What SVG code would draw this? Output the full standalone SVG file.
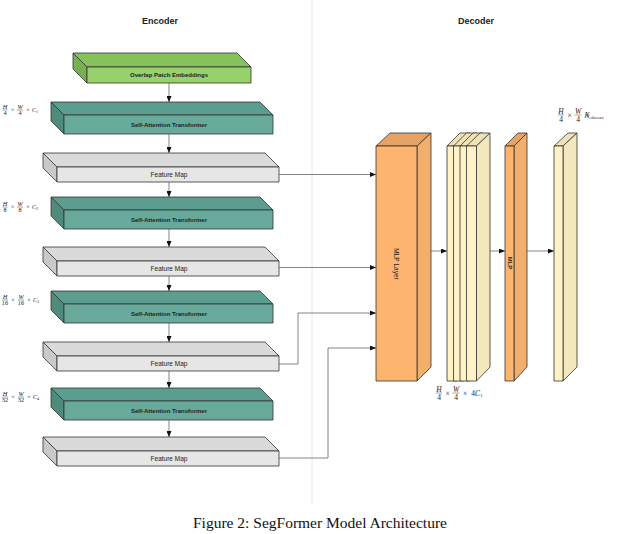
<svg xmlns="http://www.w3.org/2000/svg" width="640" height="534" viewBox="0 0 640 534">
<defs>
<marker id="ah" markerUnits="userSpaceOnUse" markerWidth="6" markerHeight="5" refX="6" refY="2.5" orient="auto"><path d="M0,0 L6,2.5 L0,5 z" fill="#111"/></marker>
<style>
.bx{stroke:#333;stroke-width:0.8;stroke-linejoin:round}
.gF{fill:#97D16B}.gT{fill:#86C25B}.gS{fill:#79B04F}
.tF{fill:#67AA9B}.tT{fill:#5B9D8E}.tS{fill:#4E8B7D}
.fF{fill:#E6E6E6}.fT{fill:#DADADA}.fS{fill:#C9C9C9}
.oF{fill:#FDB46F}.oT{fill:#E7A366}.oS{fill:#F1AE6D}
.yF{fill:#FFF2C6}.yT{fill:#EFE3B5}.yS{fill:#F2E7BD}
.lb{font-family:"Liberation Sans",Arial,sans-serif;font-size:6px;font-weight:bold;fill:#222;text-anchor:middle}
.lr{font-family:"Liberation Sans",Arial,sans-serif;font-size:6.5px;fill:#222;text-anchor:middle}
.hd{font-family:"Liberation Sans",Arial,sans-serif;font-size:9px;font-weight:bold;fill:#222;text-anchor:middle}
.m{font-family:"Liberation Serif","Times New Roman",serif;font-style:italic;font-size:6.3px;fill:#222;text-anchor:middle}
.mu{font-family:"Liberation Serif","Times New Roman",serif;font-size:6.3px;fill:#222;text-anchor:middle}
.m2{font-family:"Liberation Serif","Times New Roman",serif;font-style:italic;font-size:7.5px;fill:#222;text-anchor:middle}
.mu2{font-family:"Liberation Serif","Times New Roman",serif;font-size:7.5px;fill:#222;text-anchor:middle}
.cap{font-family:"Liberation Serif","Times New Roman",serif;font-size:15.5px;fill:#111;text-anchor:middle}
.cn{fill:none;stroke:#666;stroke-width:0.8}
.bar{stroke:#222;stroke-width:0.4}
</style>
</defs>
<rect width="640" height="534" fill="#fff"/>
<line x1="312" y1="0" x2="312" y2="505" stroke="#ececec" stroke-width="1"/>
<text class="hd" x="160" y="24">Encoder</text>
<text class="hd" x="476" y="24">Decoder</text>

<g id="ope">
<polygon class="bx gT" points="73,53 237,53 251,67 87,67"/>
<polygon class="bx gS" points="73,53 87,67 87,83 73,69"/>
<rect class="bx gF" x="87" y="67" width="164" height="16"/>
<text class="lb" x="169" y="77.2">Overlap Patch Embeddings</text>
</g>

<g id="sat1">
<polygon class="bx tT" points="51,102 260,102 273,115 64,115"/>
<polygon class="bx tS" points="51,102 64,115 64,134 51,121"/>
<rect class="bx tF" x="64" y="115" width="209" height="19"/>
<text class="lb" x="169" y="126.5">Self-Attention Transformer</text>
</g>
<g id="fm1">
<polygon class="bx fT" points="43,153 265,153 279,167 57,167"/>
<polygon class="bx fS" points="43,153 57,167 57,182 43,168"/>
<rect class="bx fF" x="57" y="167" width="222" height="15"/>
<text class="lr" x="169" y="177">Feature Map</text>
</g>
<g id="sat2">
<polygon class="bx tT" points="51,197 260,197 273,210 64,210"/>
<polygon class="bx tS" points="51,197 64,210 64,229 51,216"/>
<rect class="bx tF" x="64" y="210" width="209" height="19"/>
<text class="lb" x="169" y="221.5">Self-Attention Transformer</text>
</g>
<g id="fm2">
<polygon class="bx fT" points="43,247 265,247 279,261 57,261"/>
<polygon class="bx fS" points="43,247 57,261 57,276 43,262"/>
<rect class="bx fF" x="57" y="261" width="222" height="15"/>
<text class="lr" x="169" y="271">Feature Map</text>
</g>
<g id="sat3">
<polygon class="bx tT" points="51,291 260,291 273,304 64,304"/>
<polygon class="bx tS" points="51,291 64,304 64,323 51,310"/>
<rect class="bx tF" x="64" y="304" width="209" height="19"/>
<text class="lb" x="169" y="315.5">Self-Attention Transformer</text>
</g>
<g id="fm3">
<polygon class="bx fT" points="43,342 265,342 279,356 57,356"/>
<polygon class="bx fS" points="43,342 57,356 57,371 43,357"/>
<rect class="bx fF" x="57" y="356" width="222" height="15"/>
<text class="lr" x="169" y="366">Feature Map</text>
</g>
<g id="sat4">
<polygon class="bx tT" points="51,388 260,388 273,401 64,401"/>
<polygon class="bx tS" points="51,388 64,401 64,420 51,407"/>
<rect class="bx tF" x="64" y="401" width="209" height="19"/>
<text class="lb" x="169" y="412.5">Self-Attention Transformer</text>
</g>
<g id="fm4">
<polygon class="bx fT" points="43,437 265,437 279,451 57,451"/>
<polygon class="bx fS" points="43,437 57,451 57,466 43,452"/>
<rect class="bx fF" x="57" y="451" width="222" height="15"/>
<text class="lr" x="169" y="461">Feature Map</text>
</g>

<g id="dims-enc">
<g transform="translate(0,110)">
<text class="m" x="5" y="-1.2">H</text><line class="bar" x1="2.5" y1="0" x2="7.5" y2="0"/><text class="mu" x="5" y="5.2">4</text>
<text class="mu" x="12.5" y="2">×</text>
<text class="m" x="20" y="-1.2">W</text><line class="bar" x1="17" y1="0" x2="23" y2="0"/><text class="mu" x="20" y="5.2">4</text>
<text class="mu" x="28" y="2">×</text>
<text class="m" x="35" y="2">C<tspan font-size="4" font-style="normal" dy="1">1</tspan></text>
</g>
<g transform="translate(0,207)">
<text class="m" x="5" y="-1.2">H</text><line class="bar" x1="2.5" y1="0" x2="7.5" y2="0"/><text class="mu" x="5" y="5.2">8</text>
<text class="mu" x="12.5" y="2">×</text>
<text class="m" x="20" y="-1.2">W</text><line class="bar" x1="17" y1="0" x2="23" y2="0"/><text class="mu" x="20" y="5.2">8</text>
<text class="mu" x="28" y="2">×</text>
<text class="m" x="35" y="2">C<tspan font-size="4" font-style="normal" dy="1">2</tspan></text>
</g>
<g transform="translate(0,300)">
<text class="m" x="5" y="-1.2">H</text><line class="bar" x1="2" y1="0" x2="8" y2="0"/><text class="mu" x="5" y="5.2">16</text>
<text class="mu" x="13" y="2">×</text>
<text class="m" x="21" y="-1.2">W</text><line class="bar" x1="18" y1="0" x2="24" y2="0"/><text class="mu" x="21" y="5.2">16</text>
<text class="mu" x="29" y="2">×</text>
<text class="m" x="36" y="2">C<tspan font-size="4" font-style="normal" dy="1">3</tspan></text>
</g>
<g transform="translate(0,397)">
<text class="m" x="5" y="-1.2">H</text><line class="bar" x1="2" y1="0" x2="8" y2="0"/><text class="mu" x="5" y="5.2">32</text>
<text class="mu" x="13" y="2">×</text>
<text class="m" x="21" y="-1.2">W</text><line class="bar" x1="18" y1="0" x2="24" y2="0"/><text class="mu" x="21" y="5.2">32</text>
<text class="mu" x="29" y="2">×</text>
<text class="m" x="36" y="2">C<tspan font-size="4" font-style="normal" dy="1">4</tspan></text>
</g>
</g>

<g id="mlp-layer">
<polygon class="bx oT" points="376,146 417,146 431,133 390,133"/>
<polygon class="bx oS" points="417,146 431,133 431,367 417,381"/>
<rect class="bx oF" x="376" y="146" width="41" height="235"/>
<text class="lr" font-size="7" transform="translate(394,264) rotate(90)">MLP Layer</text>
</g>

<g id="concat">
<polygon class="bx yT" points="447,146 457,146 470,133 460,133"/>
<polygon class="bx yS" points="457,146 470,133 470,367 457,381"/>
<rect class="bx yF" x="447" y="146" width="10" height="235"/>
<polygon class="bx yT" points="453.5,146 463.5,146 476.5,133 466.5,133"/>
<polygon class="bx yS" points="463.5,146 476.5,133 476.5,367 463.5,381"/>
<rect class="bx yF" x="453.5" y="146" width="10" height="235"/>
<polygon class="bx yT" points="460,146 470,146 483,133 473,133"/>
<polygon class="bx yS" points="470,146 483,133 483,367 470,381"/>
<rect class="bx yF" x="460" y="146" width="10" height="235"/>
<polygon class="bx yT" points="466.5,146 476.5,146 490,133 480,133"/>
<polygon class="bx yS" points="476.5,146 490,133 490,367 476.5,381"/>
<rect class="bx yF" x="466.5" y="146" width="10" height="235"/>
</g>

<g id="mlp">
<polygon class="bx oT" points="505,146 514,146 527,133 518,133"/>
<polygon class="bx oS" points="514,146 527,133 527,367 514,381"/>
<rect class="bx oF" x="505" y="146" width="9" height="235"/>
<text class="lb" font-size="6" transform="translate(507.5,263) rotate(90)">MLP</text>
</g>

<g id="output">
<polygon class="bx yT" points="554,146 563,146 577,133 568,133"/>
<polygon class="bx yS" points="563,146 577,133 577,367 563,381"/>
<rect class="bx yF" x="554" y="146" width="9" height="235"/>
</g>

<g id="dims-dec">
<g transform="translate(0,115)">
<text class="m2" x="561" y="-1.5">H</text><line class="bar" x1="558" y1="0" x2="564" y2="0"/><text class="mu2" x="561" y="6.5">4</text>
<text class="mu2" x="569.5" y="2.5">×</text>
<text class="m2" x="578" y="-1.5">W</text><line class="bar" x1="574.5" y1="0" x2="581.5" y2="0"/><text class="mu2" x="578" y="6.5">4</text>
<text class="mu2" x="586.5" y="2.5">×</text>
<text class="m2" x="594" y="2.5">N<tspan font-size="5" dy="1">classes</tspan></text>
</g>
<g transform="translate(0,393)">
<text class="m2" x="439" y="-1.5">H</text><line class="bar" x1="436" y1="0" x2="442" y2="0"/><text class="mu2" x="439" y="6.5">4</text>
<text class="mu2" x="447.5" y="2.5">×</text>
<text class="m2" x="456" y="-1.5">W</text><line class="bar" x1="452.5" y1="0" x2="459.5" y2="0"/><text class="mu2" x="456" y="6.5">4</text>
<text class="mu2" x="465" y="2.5">×</text>
<text class="m2" x="477" y="2.5"><tspan font-style="normal">4</tspan>C<tspan font-size="5" font-style="normal" dy="1">1</tspan></text>
</g>
</g>

<g id="connectors">
<line class="cn" x1="169" y1="83" x2="169" y2="102" stroke="#333" marker-end="url(#ah)"/>
<line class="cn" x1="169" y1="134" x2="169" y2="153" stroke="#333" marker-end="url(#ah)"/>
<line class="cn" x1="169" y1="182" x2="169" y2="197" stroke="#333" marker-end="url(#ah)"/>
<line class="cn" x1="169" y1="229" x2="169" y2="247" stroke="#333" marker-end="url(#ah)"/>
<line class="cn" x1="169" y1="276" x2="169" y2="291" stroke="#333" marker-end="url(#ah)"/>
<line class="cn" x1="169" y1="323" x2="169" y2="342" stroke="#333" marker-end="url(#ah)"/>
<line class="cn" x1="169" y1="371" x2="169" y2="388" stroke="#333" marker-end="url(#ah)"/>
<line class="cn" x1="169" y1="420" x2="169" y2="437" stroke="#333" marker-end="url(#ah)"/>
<polyline class="cn" points="279,174.5 376,174.5" marker-end="url(#ah)"/>
<polyline class="cn" points="279,267.5 376,267.5" marker-end="url(#ah)"/>
<polyline class="cn" points="279,364 298,364 298,313 376,313" marker-end="url(#ah)"/>
<polyline class="cn" points="279,458 328,458 328,348 376,348" marker-end="url(#ah)"/>
<line class="cn" x1="431" y1="251" x2="447" y2="251" stroke="#333" marker-end="url(#ah)"/>
<line class="cn" x1="490" y1="251" x2="505" y2="251" stroke="#333" marker-end="url(#ah)"/>
<line class="cn" x1="527" y1="251" x2="554" y2="251" stroke="#333" marker-end="url(#ah)"/>
</g>

<text class="cap" x="320" y="528">Figure 2: SegFormer Model Architecture</text>
</svg>
